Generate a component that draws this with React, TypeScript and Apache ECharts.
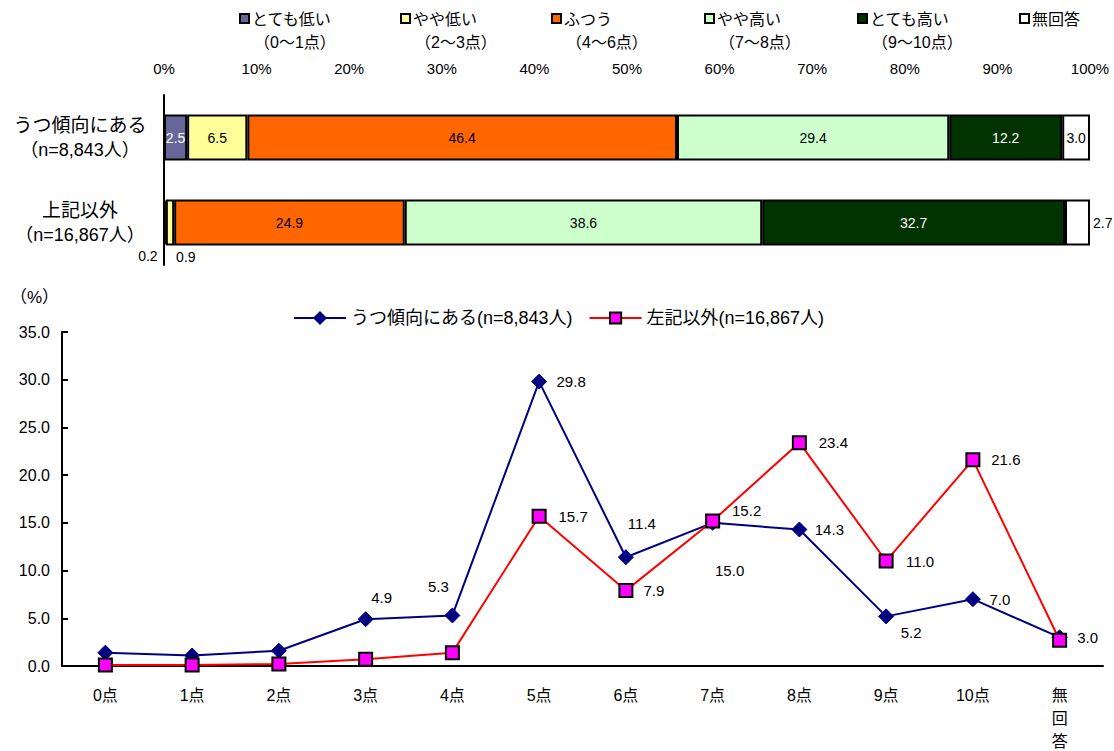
import React, { useEffect, useRef } from "react";
import * as echarts from "echarts";

const FONT = "'Liberation Sans', 'Noto Sans CJK JP', sans-serif";

// ---- Top stacked bar chart data ----
const groupNames = ["うつ傾向にある", "上記以外"];
const groupSizes = ["（n=8,843人）", "（n=16,867人）"];
const bandNames = ["とても低い", "やや低い", "ふつう", "やや高い", "とても高い", "無回答"];
const bandRanges = ["（0〜1点）", "（2〜3点）", "（4〜6点）", "（7〜8点）", "（9〜10点）", ""];
const bandColors = ["#666699", "#FFFF99", "#FF6600", "#CCFFCC", "#003300", "#FFFFFF"];
const depressedShares = [2.5, 6.5, 46.4, 29.4, 12.2, 3.0];
const otherShares = [0.2, 0.9, 24.9, 38.6, 32.7, 2.7];
const percentTicks = [0, 10, 20, 30, 40, 50, 60, 70, 80, 90, 100];

// ---- Line chart data ----
const scoreCategories = ["0点", "1点", "2点", "3点", "4点", "5点", "6点", "7点", "8点", "9点", "10点", "無回答"];
const depressedName = "うつ傾向にある(n=8,843人)";
const otherName = "左記以外(n=16,867人)";
const depressedScores = [1.4, 1.1, 1.6, 4.9, 5.3, 29.8, 11.4, 15.0, 14.3, 5.2, 7.0, 3.0];
const otherScores = [0.1, 0.1, 0.2, 0.7, 1.4, 15.7, 7.9, 15.2, 23.4, 11.0, 21.6, 2.7];

// label placement (styling only): offsets from marker centre, null = no label
const depressedLabelOffsets: (number[] | null)[] = [
  null, null, null, [16, -22], [-14, -29], [32, 0], [16, -34], [17, 48], [30, 0], [25, 16], [27, 0], [28, 0],
];
const otherLabelOffsets: (number[] | null)[] = [
  null, null, null, null, null, [34, 0], [28, 0], [34, -10], [34, 0], [34, 0], [33, 0], null,
];

// legend icon x positions (layout)
const legendX = [240, 401, 552, 705, 858, 1020];

export default function App() {
  const ref = useRef<HTMLDivElement>(null);

  useEffect(() => {
    if (!ref.current) return;
    const chart = echarts.init(ref.current, null, { renderer: "svg" });

    const barSeries = bandNames.map((name, i) => {
      const d0: any = { value: depressedShares[i] };
      const d1: any = { value: otherShares[i] };
      if (i === 0) {
        d1.label = { position: [-16, 57], align: "center", verticalAlign: "middle", color: "#000" };
      }
      if (i === 1) {
        d1.label = { position: [20, 57], align: "center", verticalAlign: "middle" };
      }
      if (i === 5) {
        d1.label = { position: "right", distance: 3 };
      }
      return {
        name,
        type: "bar",
        stack: "share",
        xAxisIndex: 0,
        yAxisIndex: 0,
        barWidth: 46,
        data: [d0, d1],
        itemStyle: { color: bandColors[i], borderColor: "#000", borderWidth: 2 },
        label: {
          show: true,
          position: "inside",
          fontFamily: FONT,
          fontSize: 14,
          color: i === 0 ? "#fff" : i === 4 ? "#fff" : "#000",
          formatter: (p: any) => Number(p.value).toFixed(1),
        },
      };
    });

    const makeLineData = (vals: number[], offsets: (number[] | null)[]) =>
      vals.map((v, i) => {
        const off = offsets[i];
        return off
          ? {
              value: v,
              label: {
                show: true,
                position: "inside",
                offset: off,
                align: "center",
                verticalAlign: "middle",
                color: "#000",
                fontFamily: FONT,
                fontSize: 15,
                formatter: (p: any) => Number(p.value).toFixed(1),
              },
            }
          : { value: v };
      });

    const graphics: any[] = [];
    bandNames.forEach((name, i) => {
      graphics.push({
        type: "rect",
        shape: { x: legendX[i], y: 14, width: 9, height: 9 },
        style: { fill: bandColors[i], stroke: "#000", lineWidth: 2 },
      });
      graphics.push({
        type: "text",
        x: legendX[i] + 12,
        y: 19,
        style: { text: name, font: `16px ${FONT}`, fill: "#000", textVerticalAlign: "middle" },
      });
      if (bandRanges[i]) {
        graphics.push({
          type: "text",
          x: legendX[i] + 14,
          y: 42,
          style: { text: bandRanges[i], font: `16px ${FONT}`, fill: "#000", textVerticalAlign: "middle" },
        });
      }
    });
    graphics.push({
      type: "text",
      x: 10,
      y: 297,
      style: { text: "（%）", font: `17px ${FONT}`, fill: "#000", textVerticalAlign: "middle" },
    });

    chart.setOption({
      animation: false,
      backgroundColor: "#fff",
      textStyle: { fontFamily: FONT },
      graphic: graphics,
      legend: {
        data: [depressedName, otherName],
        left: 288,
        top: 304,
        itemWidth: 52,
        itemHeight: 14,
        itemGap: 16,
        textStyle: { fontFamily: FONT, fontSize: 18, color: "#000" },
      },
      grid: [
        { left: 164, right: 24, top: 95, height: 170, containLabel: false, outerBoundsMode: "none" },
        { left: 62, right: 11, top: 332, bottom: 85, containLabel: false, outerBoundsMode: "none" },
      ],
      xAxis: [
        {
          gridIndex: 0,
          type: "value",
          position: "top",
          min: 0,
          max: 100,
          interval: 10,
          axisLine: { show: false },
          axisTick: { show: false },
          splitLine: { show: false },
          axisLabel: {
            fontFamily: FONT,
            fontSize: 15,
            color: "#000",
            margin: 19,
            formatter: (v: number) => (percentTicks.includes(v) ? `${v}%` : ""),
          },
        },
        {
          gridIndex: 1,
          type: "category",
          data: scoreCategories,
          boundaryGap: true,
          axisLine: { lineStyle: { color: "#000", width: 2 } },
          axisTick: { inside: true, length: 5, lineStyle: { color: "#000", width: 2 } },
          axisLabel: {
            fontFamily: FONT,
            fontSize: 16,
            color: "#000",
            margin: 18,
            lineHeight: 23,
            verticalAlign: "top",
            formatter: (v: string) => (v === "無回答" ? v.split("").join("\n") : v),
          },
        },
      ],
      yAxis: [
        {
          gridIndex: 0,
          type: "category",
          inverse: true,
          data: groupNames,
          axisLine: { lineStyle: { color: "#000", width: 2 } },
          axisTick: { inside: true, length: 5, lineStyle: { color: "#000", width: 2 } },
          axisLabel: {
            margin: 84,
            align: "center",
            formatter: (v: string) => `{a|${v}}\n{b|${groupSizes[groupNames.indexOf(v)]}}`,
            rich: {
              a: { fontFamily: FONT, fontSize: 19, color: "#000", lineHeight: 25, align: "center" },
              b: { fontFamily: FONT, fontSize: 18, color: "#000", lineHeight: 25, align: "center" },
            },
          },
        },
        {
          gridIndex: 1,
          type: "value",
          min: 0,
          max: 35,
          interval: 5,
          axisLine: { show: true, lineStyle: { color: "#000", width: 2 } },
          axisTick: { show: true, inside: true, length: 6, lineStyle: { color: "#000", width: 2 } },
          splitLine: { show: false },
          axisLabel: {
            fontFamily: FONT,
            fontSize: 16,
            color: "#000",
            margin: 12,
            formatter: (v: number) => v.toFixed(1),
          },
        },
      ],
      series: [
        ...barSeries,
        {
          name: depressedName,
          type: "line",
          xAxisIndex: 1,
          yAxisIndex: 1,
          data: makeLineData(depressedScores, depressedLabelOffsets),
          symbol: "diamond",
          symbolSize: 15,
          lineStyle: { color: "#000080", width: 2 },
          itemStyle: { color: "#000080", borderColor: "#000080", borderWidth: 1 },
          z: 3,
        },
        {
          name: otherName,
          type: "line",
          xAxisIndex: 1,
          yAxisIndex: 1,
          data: makeLineData(otherScores, otherLabelOffsets),
          symbol: "rect",
          symbolSize: 13,
          lineStyle: { color: "#FF0000", width: 2 },
          itemStyle: { color: "#FF00FF", borderColor: "#000", borderWidth: 2 },
          z: 4,
        },
      ],
    });

    return () => chart.dispose();
  }, []);

  return (
    <div
      ref={ref}
      style={{ position: "absolute", left: 0, top: 0, width: 1114, height: 751, background: "#fff" }}
    />
  );
}
